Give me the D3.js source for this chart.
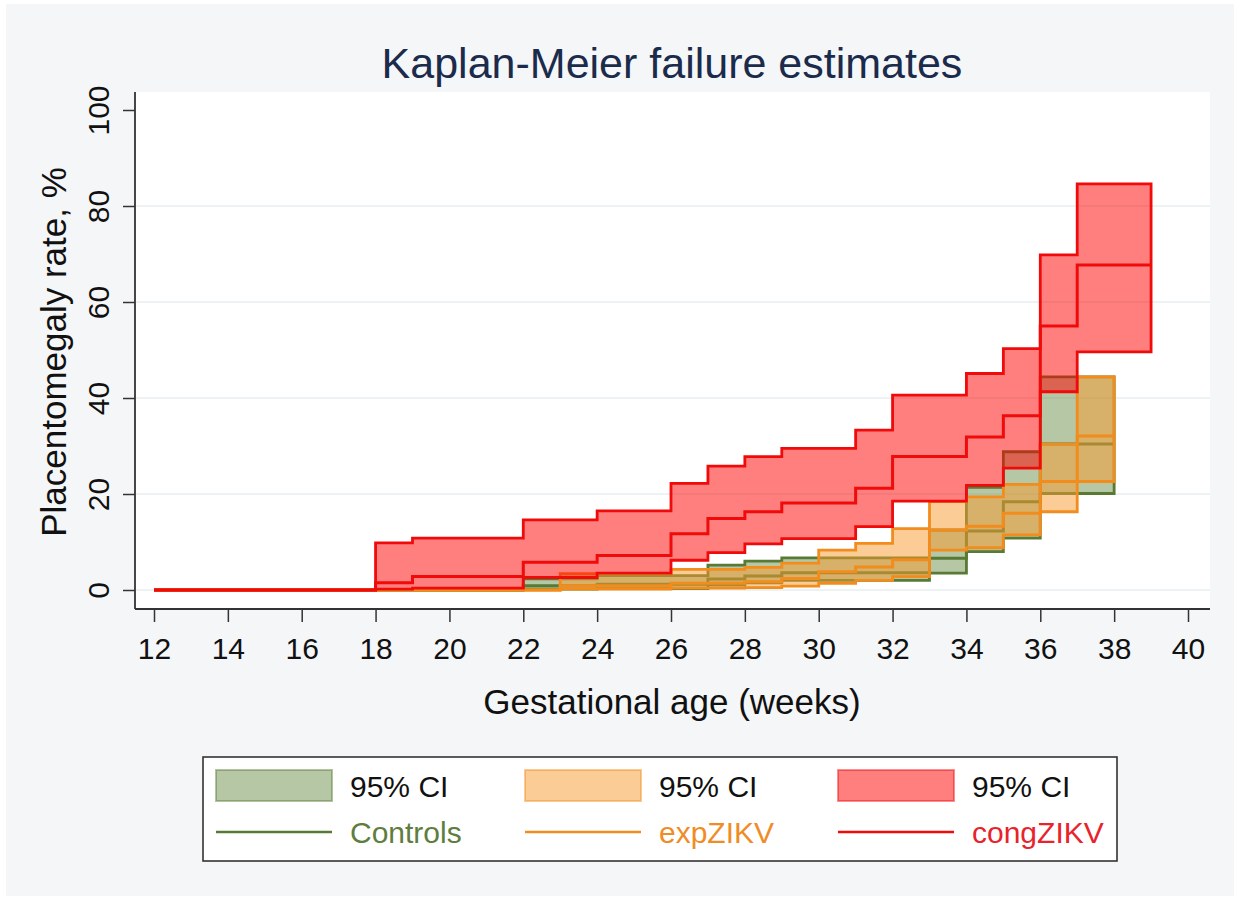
<!DOCTYPE html>
<html><head><meta charset="utf-8">
<script src="https://cdn.jsdelivr.net/npm/d3@7"></script>
<style>body{margin:0;background:#fff;} svg{display:block;font-family:"Liberation Sans",Arial,sans-serif;}</style>
</head><body><svg id="c" width="1240" height="901"></svg>
<script>
// ---- data ----
const xTicks = [12,14,16,18,20,22,24,26,28,30,32,34,36,38,40];
const yTicks = [0,20,40,60,80,100];

const controlsWeeks = [12, 22, 24, 27, 28, 29, 33, 34, 35, 36];
const controlsEst   = [0, 0.9, 1.2, 2.3, 2.9, 3.6, 6.6, 12.3, 18.4, 30.4];
const controlsLo    = [0, 0.2, 0.3, 1.0, 1.5, 2.0, 3.5, 8.0, 10.8, 20.1];
const controlsHi    = [0, 2.3, 3.0, 5.2, 6.0, 6.7, 12.5, 21.4, 28.8, 44.4];
const controlsEnd   = 38;

const expWeeks = [12, 23, 26, 28, 29, 30, 31, 32, 33, 34, 35, 36, 37];
const expEst   = [0, 0.9, 1.4, 1.7, 2.4, 3.8, 4.8, 6.3, 12.5, 13.3, 16.0, 22.6, 32.1];
const expLo    = [0, 0.2, 0.4, 0.5, 0.8, 1.4, 2.0, 2.8, 8.3, 8.8, 11.5, 16.3, 22.6];
const expHi    = [0, 3.4, 4.3, 4.7, 5.6, 8.3, 9.7, 12.8, 18.4, 19.4, 22.0, 30.4, 44.4];
const expEnd   = 38;

const congWeeks = [12, 18, 19, 22, 24, 26, 27, 28, 29, 31, 32, 34, 35, 36, 37];
const congEst   = [0, 1.5, 2.8, 5.8, 7.2, 11.7, 14.9, 16.3, 18.1, 21.2, 27.8, 31.9, 36.3, 55.0, 67.7];
const congLo    = [0, 0.2, 0.4, 2.6, 3.5, 6.2, 7.8, 9.6, 10.7, 13.2, 18.5, 21.8, 25.4, 41.3, 49.6];
const congHi    = [0, 9.8, 10.8, 14.6, 16.5, 22.2, 25.8, 27.8, 29.5, 33.3, 40.6, 45.1, 50.3, 69.8, 84.6];
const congEnd   = 39;

const groupNames = ["Controls", "expZIKV", "congZIKV"];
const ciLabel = "95% CI";

// ---- drawing ----
const W = 1240, H = 901;
const svg = d3.select('#c');
svg.append('rect').attr('width', W).attr('height', H).attr('fill', '#ffffff');
svg.append('rect').attr('x', 6).attr('y', 4).attr('width', 1228).attr('height', 892).attr('fill', '#f5f6f8');

const plot = {left: 135, right: 1210, top: 92, bottom: 609};
svg.append('rect').attr('x', plot.left).attr('y', plot.top)
  .attr('width', plot.right - plot.left).attr('height', plot.bottom - plot.top).attr('fill', '#ffffff');

const x = d3.scaleLinear().domain([12, 40]).range([154, 1188]);
const y = d3.scaleLinear().domain([0, 100]).range([590, 110]);

// gridlines
svg.append('g').selectAll('line').data(yTicks.filter(v => v < 100)).join('line')
  .attr('x1', plot.left).attr('x2', plot.right)
  .attr('y1', d => y(d)).attr('y2', d => y(d))
  .attr('stroke', '#e7eef1').attr('stroke-width', 1.6);

function build(weeks, est, lo, hi, end) {
  const pts = weeks.map((w, i) => ({t: w, e: est[i], l: lo[i], h: hi[i]}));
  const last = pts[pts.length - 1];
  pts.push({t: end, e: last.e, l: last.l, h: last.h});
  return pts;
}

const groups = [
  {pts: build(controlsWeeks, controlsEst, controlsLo, controlsHi, controlsEnd), fill: '#6b8f4a', line: '#587a35', text: '#5e7d3e'},
  {pts: build(expWeeks, expEst, expLo, expHi, expEnd), fill: '#fa9a2e', line: '#f28c1c', text: '#f08c25'},
  {pts: build(congWeeks, congEst, congLo, congHi, congEnd), fill: '#ff0000', line: '#f00a0a', text: '#e8232b'}
];

const area = d3.area().curve(d3.curveStepAfter)
  .x(d => x(d.t)).y0(d => y(d.l)).y1(d => y(d.h));
const line = d3.line().curve(d3.curveStepAfter)
  .x(d => x(d.t)).y(d => y(d.e));

const marks = svg.append('g');
groups.forEach(g => {
  marks.append('path').attr('d', area(g.pts))
    .attr('fill', g.fill).attr('fill-opacity', 0.5)
    .attr('stroke', g.line).attr('stroke-width', 2.8).attr('stroke-linejoin', 'miter');
  marks.append('path').attr('d', line(g.pts))
    .attr('fill', 'none').attr('stroke', g.line).attr('stroke-width', 3);
});

// axes
const yAxis = svg.append('g').attr('transform', `translate(${plot.left},0)`)
  .call(d3.axisLeft(y).tickValues(yTicks).tickSize(12).tickSizeOuter(0));
yAxis.select('.domain').remove();
yAxis.selectAll('.tick line').attr('stroke', '#333').attr('stroke-width', 1.5);
yAxis.selectAll('.tick text')
  .attr('transform', 'rotate(-90)').attr('x', 0).attr('y', -26).attr('dy', 0)
  .attr('text-anchor', 'middle').attr('font-size', 30).attr('fill', '#111')
  .attr('font-family', '"Liberation Sans", Arial, sans-serif');

const xAxis = svg.append('g').attr('transform', `translate(0,${plot.bottom})`)
  .call(d3.axisBottom(x).tickValues(xTicks).tickSize(13).tickSizeOuter(0));
xAxis.select('.domain').remove();
xAxis.selectAll('.tick line').attr('stroke', '#333').attr('stroke-width', 1.5);
xAxis.selectAll('.tick text').attr('y', 50).attr('dy', 0)
  .attr('font-size', 30).attr('fill', '#111')
  .attr('font-family', '"Liberation Sans", Arial, sans-serif');

svg.append('line').attr('x1', plot.left).attr('x2', plot.left).attr('y1', plot.top).attr('y2', plot.bottom)
  .attr('stroke', '#333').attr('stroke-width', 1.8);
svg.append('line').attr('x1', plot.left).attr('x2', plot.right).attr('y1', plot.bottom).attr('y2', plot.bottom)
  .attr('stroke', '#333').attr('stroke-width', 1.8);

// titles
svg.append('text').attr('x', 672).attr('y', 78).attr('text-anchor', 'middle')
  .attr('font-size', 43).attr('fill', '#1b2b4b').text('Kaplan-Meier failure estimates');
svg.append('text').attr('x', 672).attr('y', 714).attr('text-anchor', 'middle')
  .attr('font-size', 35).attr('fill', '#111').text('Gestational age (weeks)');
svg.append('text').attr('transform', 'translate(66,352) rotate(-90)').attr('text-anchor', 'middle')
  .attr('font-size', 35).attr('fill', '#111').text('Placentomegaly rate, %');

// legend
const leg = svg.append('g');
leg.append('rect').attr('x', 203).attr('y', 757).attr('width', 914).attr('height', 104)
  .attr('fill', '#ffffff').attr('stroke', '#333').attr('stroke-width', 1.6);
const cols = [216, 525, 838];
groups.forEach((g, i) => {
  const x0 = cols[i];
  leg.append('rect').attr('x', x0).attr('y', 770).attr('width', 116).attr('height', 31)
    .attr('fill', g.fill).attr('fill-opacity', 0.5)
    .attr('stroke', g.line).attr('stroke-opacity', 0.45).attr('stroke-width', 2);
  leg.append('text').attr('x', x0 + 134).attr('y', 797).attr('font-size', 30).attr('fill', '#111').text(ciLabel);
  leg.append('line').attr('x1', x0).attr('x2', x0 + 116).attr('y1', 832).attr('y2', 832)
    .attr('stroke', g.line).attr('stroke-width', 2.6);
  leg.append('text').attr('x', x0 + 134).attr('y', 843).attr('font-size', 30).attr('fill', g.text).text(groupNames[i]);
});
</script></body></html>
